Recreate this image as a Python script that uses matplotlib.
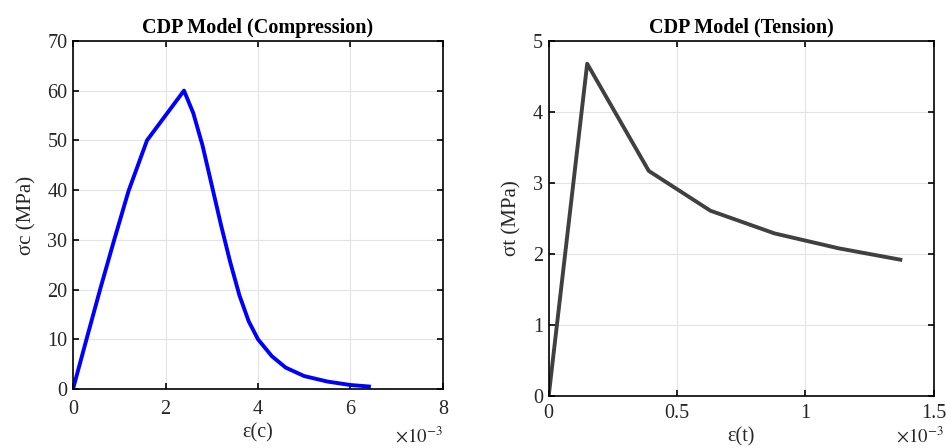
import matplotlib
matplotlib.use("Agg")
import matplotlib.pyplot as plt
from matplotlib.ticker import FuncFormatter

plt.rcParams["font.family"] = ["Liberation Serif", "DejaVu Serif"]
plt.rcParams["mathtext.fontset"] = "stix"
plt.rcParams["font.size"] = 14

# strain in units of 1e-3, stress in MPa
eps_c = [0, 0.3, 0.6, 0.9, 1.2, 1.6, 2.4, 2.6, 2.8, 3.0, 3.2, 3.4, 3.6, 3.8,
         4.0, 4.3, 4.6, 5.0, 5.5, 6.0, 6.4]
sig_c = [0, 10.3, 20.5, 30.3, 39.8, 50, 60, 55.5, 49, 41, 33, 25.5, 18.8, 13.6,
         10, 6.6, 4.3, 2.6, 1.5, 0.8, 0.5]

eps_t = [0, 0.15, 0.39, 0.63, 0.88, 1.13, 1.37]
sig_t = [0, 4.68, 3.17, 2.61, 2.29, 2.08, 1.92]

TXT = "#262626"
FS = 14.5
fig = plt.figure(figsize=(9.46, 4.48), dpi=100)
ax1 = fig.add_axes([0.0772, 0.1317, 0.391, 0.777])
ax2 = fig.add_axes([0.580, 0.116, 0.407, 0.7925])

fmt = FuncFormatter(lambda v, p: f"{v:g}")


def style(ax, xt, yt, title, ylab, xlab, xpad):
    ax.set_xticks(xt)
    ax.set_yticks(yt)
    ax.set_xlim(xt[0], xt[-1])
    ax.set_ylim(yt[0], yt[-1])
    ax.xaxis.set_major_formatter(fmt)
    ax.yaxis.set_major_formatter(fmt)
    ax.grid(True, color="#e3e3e3", lw=0.8)
    ax.set_axisbelow(True)
    ax.tick_params(direction="in", top=True, right=True, length=4, width=1.2,
                   labelsize=FS, labelcolor=TXT, pad=4)
    ax.tick_params(axis="x", pad=xpad)
    for s in ax.spines.values():
        s.set_linewidth(1.2)
        s.set_color("black")
    ax.set_title(title, fontsize=FS, fontweight="bold", pad=6)
    ax.set_ylabel(ylab, fontsize=FS + 0.5, color=TXT, labelpad=8)
    ax.set_xlabel(xlab, fontsize=FS, color=TXT, labelpad=3)


ax1.plot(eps_c, sig_c, color="#0000ff", lw=2.8)
style(ax1, [0, 2, 4, 6, 8], [0, 10, 20, 30, 40, 50, 60, 70],
      "CDP Model (Compression)", "σc (MPa)", "ε(c)", 8)
fig.text(443 / 946, 1 - 436 / 448, r"$\times10^{-3}$", ha="right", va="center",
         fontsize=FS - 1, color=TXT)

ax2.plot(eps_t, sig_t, color="#404040", lw=2.8)
style(ax2, [0, 0.5, 1, 1.5], [0, 1, 2, 3, 4, 5],
      "CDP Model (Tension)", "σt (MPa)", "ε(t)", 6)
fig.text(944 / 946, 1 / 448, r"$\times10^{-3}$", ha="right", va="bottom",
         fontsize=FS - 1, color=TXT)

fig.savefig("out.png", dpi=100, facecolor="white")
